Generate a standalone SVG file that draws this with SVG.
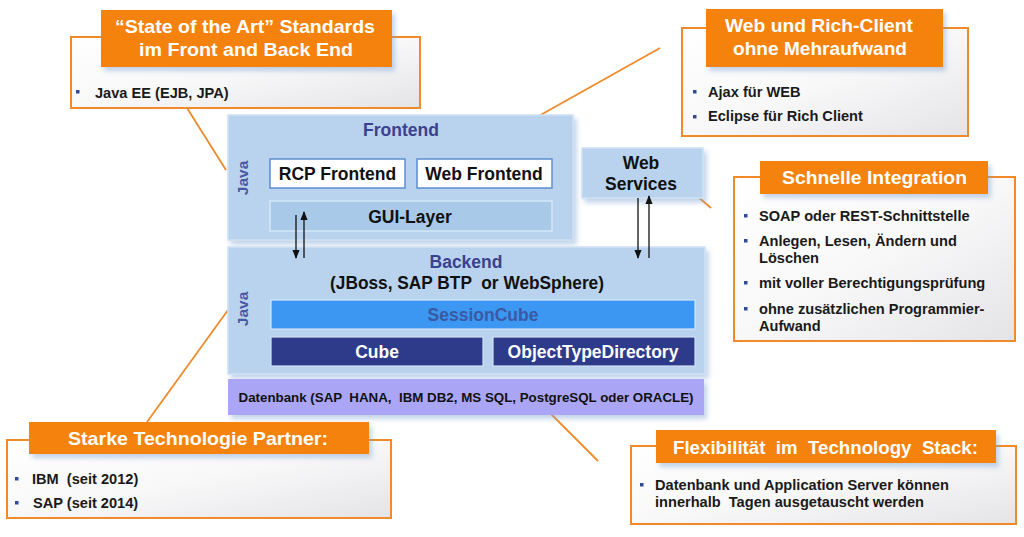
<svg xmlns="http://www.w3.org/2000/svg" width="1024" height="537" viewBox="0 0 1024 537">
<defs>
<linearGradient id="boxg" x1="0" y1="0" x2="1" y2="1">
<stop offset="0" stop-color="#ffffff"/>
<stop offset="0.5" stop-color="#f8f8f9"/>
<stop offset="1" stop-color="#e4e4e7"/>
</linearGradient>
<filter id="sh" x="-10%" y="-10%" width="130%" height="140%">
<feGaussianBlur in="SourceAlpha" stdDeviation="2.5"/>
<feOffset dx="3" dy="4" result="b"/>
<feFlood flood-color="#7aa0d0" flood-opacity="0.45"/>
<feComposite in2="b" operator="in"/>
<feMerge><feMergeNode/><feMergeNode in="SourceGraphic"/></feMerge>
</filter>
<marker id="ah" viewBox="0 0 10 10" refX="9" refY="5" markerWidth="7" markerHeight="7" orient="auto">
<path d="M0,1 L10,5 L0,9 z" fill="#111"/>
</marker>
</defs>
<style>
text{font-family:"Liberation Sans",Arial,sans-serif;font-weight:bold}
.outer{fill:url(#boxg);stroke:#f08a2a;stroke-width:2}
.hdr{fill:#f5820f;filter:url(#sh)}
.ht{fill:#ffffff;font-size:19px;text-anchor:middle}
.bt{fill:#1a1a1a;font-size:14.6px}
.bu{fill:#2f4a9a}
.panel{fill:#b9d3ee;stroke:#cfe1f4;stroke-width:1.5;filter:url(#sh)}
.pt{fill:#3b418f;font-size:17.5px;text-anchor:middle}
.java{fill:#4a57a3;font-size:15.5px;text-anchor:middle}
.wbox{fill:#ffffff;stroke:#5b8fd0;stroke-width:1.5}
.lbl{fill:#111;font-size:17.5px;text-anchor:middle}
.ol{stroke:#ef8a2c;stroke-width:1.8;fill:none}
.ar{stroke:#111;stroke-width:1.3;fill:none}
</style>

<g id="connectors">
<line class="ol" x1="187" y1="108" x2="226" y2="170"/>
<line class="ol" x1="660" y1="48" x2="505" y2="135"/>
<line class="ol" x1="690" y1="190" x2="711" y2="208"/>
<line class="ol" x1="228" y1="310" x2="147" y2="422"/>
<line class="ol" x1="549" y1="412" x2="598" y2="461"/>
</g>

<g id="frontend">
<rect class="panel" x="228" y="115" width="345" height="125"/>
<text class="pt" x="401" y="136">Frontend</text>
<text class="java" transform="translate(248,178) rotate(-90)">Java</text>
</g>
<g id="rcp-frontend">
<rect class="wbox" x="270" y="159" width="135" height="29"/>
<text class="lbl" x="337.5" y="180">RCP Frontend</text>
</g>
<g id="web-frontend">
<rect class="wbox" x="417" y="159" width="135" height="29"/>
<text class="lbl" x="484" y="180">Web Frontend</text>
</g>
<g id="gui-layer">
<rect x="270" y="201" width="282" height="30" fill="#a9c9e8" stroke="#d6e6f6" stroke-width="1.5"/>
<text class="lbl" x="410" y="222.5">GUI-Layer</text>
</g>

<g id="web-services">
<rect class="panel" x="582" y="148" width="121" height="50"/>
<text class="lbl" x="641" y="169">Web</text>
<text class="lbl" x="641" y="190">Services</text>
</g>

<g id="backend">
<rect class="panel" x="228" y="247" width="477" height="127"/>
<text class="pt" x="466" y="268">Backend</text>
<text class="lbl" x="467" y="289" xml:space="preserve" textLength="274" lengthAdjust="spacingAndGlyphs">(JBoss, SAP BTP  or WebSphere)</text>
<text class="java" transform="translate(248,309) rotate(-90)">Java</text>
</g>
<g id="sessioncube">
<rect x="271" y="300" width="424" height="29" fill="#3b97f2" stroke="#d3e6fa" stroke-width="1.2"/>
<text x="483" y="320.5" fill="#3a5aa3" font-size="17.5px" text-anchor="middle">SessionCube</text>
</g>
<g id="cube">
<rect x="271" y="337" width="212" height="29" fill="#2e3a8a" stroke="#d3e0f3" stroke-width="1.2"/>
<text x="377" y="357.5" fill="#ffffff" font-size="17.5px" text-anchor="middle">Cube</text>
</g>
<g id="objecttypedirectory">
<rect x="493" y="337" width="202" height="29" fill="#2e3a8a" stroke="#d3e0f3" stroke-width="1.2"/>
<text x="593" y="357.5" fill="#ffffff" font-size="17.5px" text-anchor="middle">ObjectTypeDirectory</text>
</g>
<g id="datenbank">
<rect x="228" y="379" width="476" height="36" fill="#aaa6f5" filter="url(#sh)"/>
<text x="466" y="402" fill="#111" font-size="13.5px" text-anchor="middle" xml:space="preserve" textLength="455" lengthAdjust="spacingAndGlyphs">Datenbank (SAP  HANA,  IBM DB2, MS SQL, PostgreSQL oder ORACLE)</text>
</g>

<g id="arrows">
<line class="ar" x1="296" y1="215" x2="296" y2="258" marker-end="url(#ah)"/>
<line class="ar" x1="304" y1="258" x2="304" y2="212" marker-end="url(#ah)"/>
<line class="ar" x1="638" y1="198" x2="638" y2="258" marker-end="url(#ah)"/>
<line class="ar" x1="649" y1="258" x2="649" y2="196" marker-end="url(#ah)"/>
</g>

<g id="box-standards">
<rect class="outer" x="71" y="37" width="349" height="71"/>
<rect class="hdr" x="101" y="10" width="291" height="57"/>
<text class="ht" x="245" y="32.5" textLength="260" lengthAdjust="spacingAndGlyphs">“State of the Art” Standards</text>
<text class="ht" x="246" y="55.5" textLength="214" lengthAdjust="spacingAndGlyphs">im Front and Back End</text>
<rect class="bu" x="76" y="90" width="3.5" height="3.5"/>
<text class="bt" x="95" y="98">Java EE (EJB, JPA)</text>
</g>

<g id="box-web-rich">
<rect class="outer" x="682" y="28" width="286" height="108"/>
<rect class="hdr" x="706" y="9" width="237" height="58"/>
<text class="ht" x="819" y="31.5" textLength="188" lengthAdjust="spacingAndGlyphs">Web und Rich-Client</text>
<text class="ht" x="820" y="54.5" textLength="174" lengthAdjust="spacingAndGlyphs">ohne Mehraufwand</text>
<rect class="bu" x="693" y="90" width="3.5" height="3.5"/>
<text class="bt" x="708" y="97">Ajax für WEB</text>
<rect class="bu" x="693" y="115" width="3.5" height="3.5"/>
<text class="bt" x="708" y="121">Eclipse für Rich Client</text>
</g>

<g id="box-integration">
<rect class="outer" x="734" y="177" width="281" height="164"/>
<rect class="hdr" x="760" y="161" width="228" height="33"/>
<text class="ht" x="874.5" y="184" textLength="185" lengthAdjust="spacingAndGlyphs">Schnelle Integration</text>
<rect class="bu" x="744" y="214" width="3.5" height="3.5"/>
<text class="bt" x="759" y="221">SOAP oder REST-Schnittstelle</text>
<rect class="bu" x="744" y="239" width="3.5" height="3.5"/>
<text class="bt" x="759" y="246">Anlegen, Lesen, Ändern und</text>
<text class="bt" x="759" y="263">Löschen</text>
<rect class="bu" x="744" y="281" width="3.5" height="3.5"/>
<text class="bt" x="759" y="288">mit voller Berechtigungsprüfung</text>
<rect class="bu" x="744" y="307" width="3.5" height="3.5"/>
<text class="bt" x="759" y="314">ohne zusätzlichen Programmier-</text>
<text class="bt" x="759" y="331">Aufwand</text>
</g>

<g id="box-partner">
<rect class="outer" x="7" y="440" width="384" height="78"/>
<rect class="hdr" x="29" y="422" width="340" height="32"/>
<text class="ht" x="198" y="445" textLength="260" lengthAdjust="spacingAndGlyphs">Starke Technologie Partner:</text>
<rect class="bu" x="15" y="477" width="3.5" height="3.5"/>
<text class="bt" x="32" y="484" xml:space="preserve">IBM  (seit 2012)</text>
<rect class="bu" x="15" y="501" width="3.5" height="3.5"/>
<text class="bt" x="33" y="508">SAP (seit 2014)</text>
</g>

<g id="box-flex">
<rect class="outer" x="631" y="446" width="385" height="78"/>
<rect class="hdr" x="656" y="430" width="340" height="33"/>
<text class="ht" x="825.5" y="453.5" xml:space="preserve" textLength="305" lengthAdjust="spacingAndGlyphs">Flexibilität  im  Technology  Stack:</text>
<rect class="bu" x="640" y="483" width="3.5" height="3.5"/>
<text class="bt" x="655" y="490">Datenbank und Application Server können</text>
<text class="bt" x="655" y="507" xml:space="preserve">innerhalb  Tagen ausgetauscht werden</text>
</g>
</svg>
